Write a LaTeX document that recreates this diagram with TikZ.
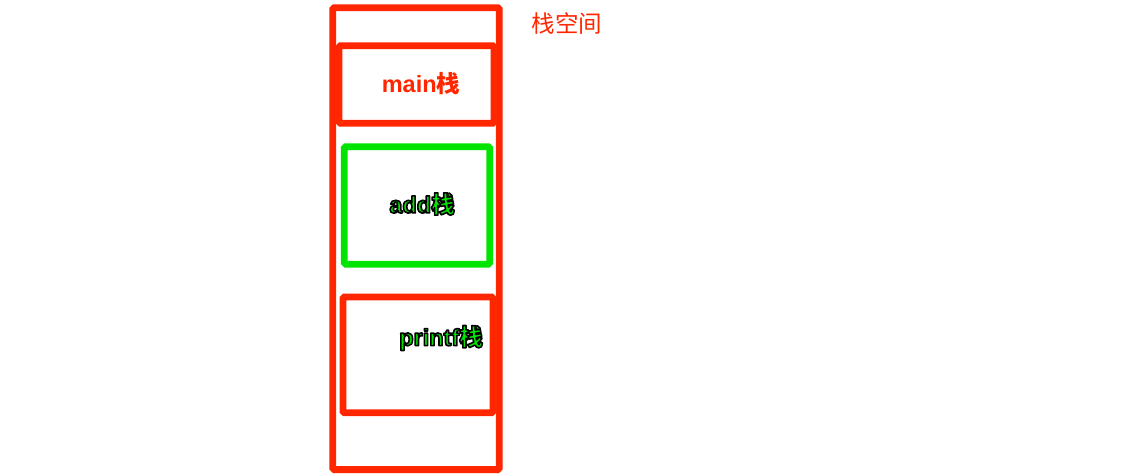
\documentclass[tikz,border=0pt]{standalone}
\usepackage{fontspec}
\setmainfont{Liberation Sans}
\newfontfamily\cjk{Noto Sans CJK SC}
\definecolor{stackred}{RGB}{255,38,0}
\definecolor{stackgreen}{RGB}{0,228,0}
\newcommand{\blackoutline}[1]{\special{pdf:literal direct 2 Tr 1.6 w 1 j 0 0 0 RG}#1\special{pdf:literal direct 0 Tr}}
\begin{document}
\begin{tikzpicture}[x=1pt,y=-1pt,
  redbox/.style={draw=stackred, line width=6.8pt, rounded corners=1.5pt},
  greenbox/.style={draw=stackgreen, line width=6.8pt, rounded corners=1.5pt},
  redlabel/.style={text=stackred, font=\fontsize{23.5}{26}\selectfont\bfseries},
  greenlabel/.style={text=stackgreen, font=\fontsize{23.5}{26}\selectfont\bfseries},
  titlelabel/.style={text=stackred, font=\fontsize{23.5}{26}\selectfont}
]
\useasboundingbox (0,0) rectangle (1126,474);
\draw[redbox] (332.8,7.7) rectangle (499.3,469.6);
\draw[redbox] (339,45.7) rectangle (494,123.3);
\draw[greenbox] (344.3,146.7) rectangle (489.7,264.2);
\draw[redbox] (343,297) rectangle (493,412.7);
\node[titlelabel] (title) at (567,23) {\cjk 栈空间};
\node[redlabel] (main) at (421,84) {main{\cjk\bfseries 栈}};
\node[greenlabel] (add) at (422,204) {\blackoutline{add{\cjk\bfseries 栈}}};
\node[greenlabel] (printf) at (441,338) {\blackoutline{printf{\cjk\bfseries 栈}}};
\end{tikzpicture}
\end{document}
